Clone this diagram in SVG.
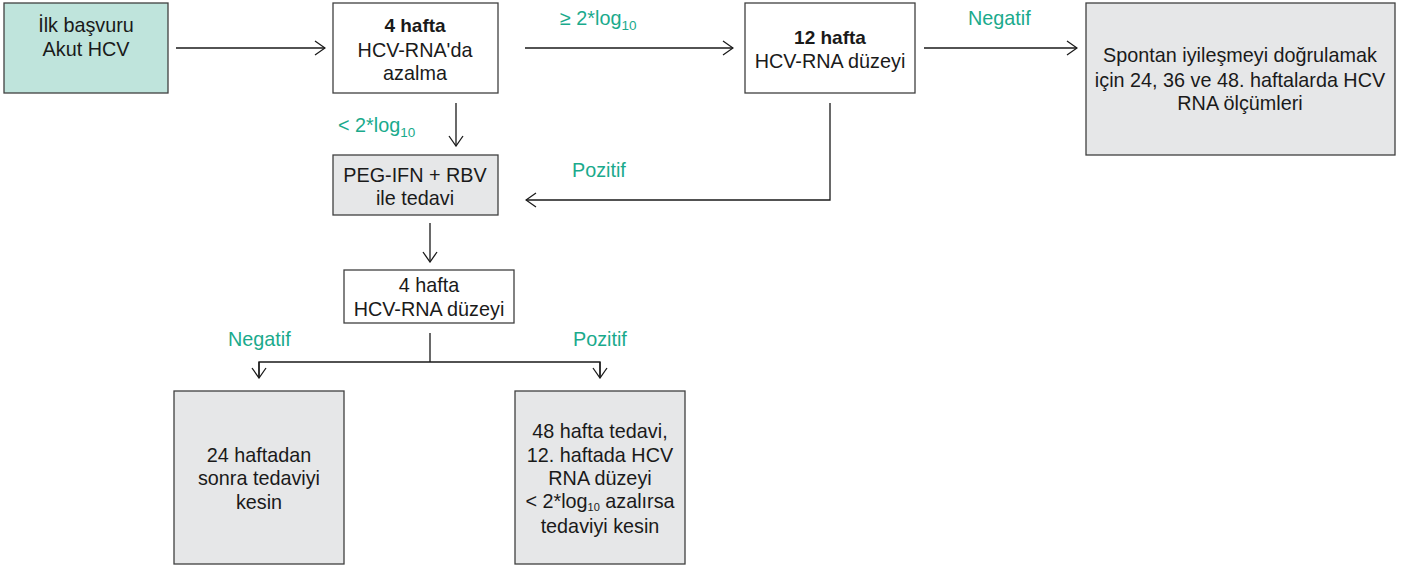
<svg xmlns="http://www.w3.org/2000/svg" width="1411" height="570" viewBox="0 0 1411 570">
<style>
.box{stroke:#404040;stroke-width:1.3}
.w{fill:#ffffff}.g{fill:#e6e7e8}.t{fill:#bfe4dc}
text{font-family:"Liberation Sans",Arial,sans-serif;font-size:19.8px;fill:#1a1a1a;text-anchor:middle}
.b{font-weight:bold;font-size:19px}
.lbl{fill:#1aaa8c;text-anchor:start}
.sub{font-size:13.5px}
.sub2{font-size:11px}
.c{fill:none;stroke:#1a1a1a;stroke-width:1.3}
</style>
<defs>
<marker id="ar" viewBox="0 0 12 16" refX="11" refY="8" markerWidth="12" markerHeight="16" markerUnits="userSpaceOnUse" orient="auto">
<path d="M1,1 L11,8 L1,15" fill="none" stroke="#1a1a1a" stroke-width="1.3"/>
</marker>
</defs>
<rect width="1411" height="570" fill="#ffffff"/>
<g id="connectors">
<line class="c" x1="176" y1="48" x2="325" y2="48" marker-end="url(#ar)"/>
<line class="c" x1="525" y1="48" x2="733" y2="48" marker-end="url(#ar)"/>
<line class="c" x1="924" y1="48" x2="1077" y2="48" marker-end="url(#ar)"/>
<line class="c" x1="456" y1="103" x2="456" y2="146" marker-end="url(#ar)"/>
<polyline class="c" points="830,103 830,200 526,200" marker-end="url(#ar)"/>
<line class="c" x1="430" y1="223" x2="430" y2="262" marker-end="url(#ar)"/>
<polyline class="c" points="430,333 430,362"/>
<polyline class="c" points="259,377 259,362 600,362 600,377"/>
<line class="c" x1="259" y1="362" x2="259" y2="378" marker-end="url(#ar)"/>
<line class="c" x1="600" y1="362" x2="600" y2="378" marker-end="url(#ar)"/>
<text class="lbl" x="560" y="25">≥ 2*log<tspan class="sub" dy="5">10</tspan></text>
<text class="lbl" x="968" y="25">Negatif</text>
<text class="lbl" x="338" y="132">&lt; 2*log<tspan class="sub" dy="5">10</tspan></text>
<text class="lbl" x="572" y="177">Pozitif</text>
<text class="lbl" x="228" y="346">Negatif</text>
<text class="lbl" x="573" y="346">Pozitif</text>
</g>
<g id="n_ilk">
<rect class="box t" x="4" y="3" width="164" height="90"/>
<text x="86" y="32">İlk başvuru</text>
<text x="86" y="56">Akut HCV</text>
</g>
<g id="n_4hafta">
<rect class="box w" x="333" y="3" width="165" height="90"/>
<text class="b" x="415" y="32">4 hafta</text>
<text x="415" y="57">HCV-RNA'da</text>
<text x="415" y="80">azalma</text>
</g>
<g id="n_12hafta">
<rect class="box w" x="745" y="3" width="170" height="90"/>
<text class="b" x="830" y="44">12 hafta</text>
<text x="830" y="68">HCV-RNA düzeyi</text>
</g>
<g id="n_spontan">
<rect class="box g" x="1086" y="3" width="309" height="152"/>
<text x="1240" y="62">Spontan iyileşmeyi doğrulamak</text>
<text x="1240" y="87">için 24, 36 ve 48. haftalarda HCV</text>
<text x="1240" y="110">RNA ölçümleri</text>
</g>
<g id="n_peg">
<rect class="box g" x="333" y="155" width="165" height="60"/>
<text x="415" y="182">PEG-IFN + RBV</text>
<text x="415" y="205">ile tedavi</text>
</g>
<g id="n_4hafta2">
<rect class="box w" x="344" y="270" width="170" height="53"/>
<text x="429" y="292">4 hafta</text>
<text x="429" y="316">HCV-RNA düzeyi</text>
</g>
<g id="n_24">
<rect class="box g" x="174" y="391" width="170" height="173"/>
<text x="259" y="462">24 haftadan</text>
<text x="259" y="485">sonra tedaviyi</text>
<text x="259" y="509">kesin</text>
</g>
<g id="n_48">
<rect class="box g" x="515" y="391" width="170" height="173"/>
<text x="600" y="438">48 hafta tedavi,</text>
<text x="600" y="462">12. haftada HCV</text>
<text x="600" y="485">RNA düzeyi</text>
<text x="600" y="508">&lt; 2*log<tspan class="sub2" dy="3">10</tspan><tspan dy="-3"> azalırsa</tspan></text>
<text x="600" y="533">tedaviyi kesin</text>
</g>
</svg>
